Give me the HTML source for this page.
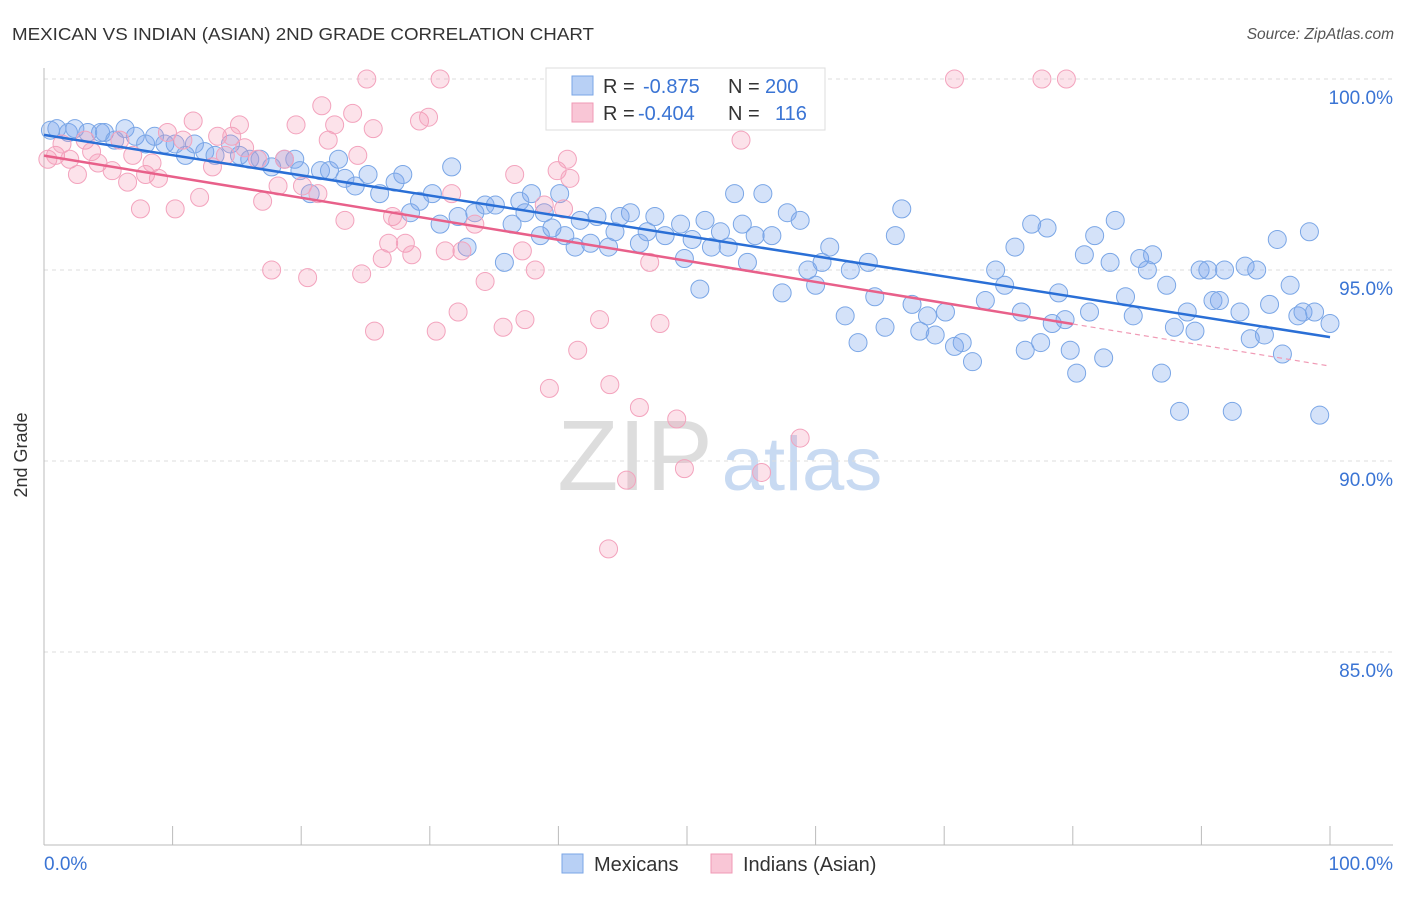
<!DOCTYPE html>
<html><head><meta charset="utf-8"><style>
body{margin:0;background:#fff;font-family:"Liberation Sans",sans-serif;}
svg text{font-family:"Liberation Sans",sans-serif;}
</style></head><body>
<svg id="chart" width="1406" height="892" xmlns="http://www.w3.org/2000/svg">
<text x="12" y="40" font-size="17.5" fill="#333" textLength="582" lengthAdjust="spacingAndGlyphs">MEXICAN VS INDIAN (ASIAN) 2ND GRADE CORRELATION CHART</text>
<text x="1394" y="39" font-size="15.5" fill="#555" text-anchor="end" font-style="italic">Source: ZipAtlas.com</text>
<text x="27" y="455" font-size="18" fill="#333" text-anchor="middle" transform="rotate(-90 27 455)">2nd Grade</text>
<g><text x="635" y="490" font-size="100" fill="#ddd" text-anchor="middle" font-family="Liberation Serif">ZIP</text><text x="802" y="490" font-size="76" fill="#c8daf2" text-anchor="middle">atlas</text></g>
<g id="grid"></g><g id="axes"></g><g id="pts"></g><g id="lines"></g>
<g>
<rect x="546" y="68" width="279" height="62" fill="#fff" stroke="#ddd"/>
<rect x="572" y="76" width="21" height="19" fill="#b8d0f5" stroke="#7aa6e6"/>
<text x="603" y="93" font-size="20" fill="#333">R =</text><text x="643" y="93" font-size="20" fill="#3a74d4">-0.875</text>
<text x="728" y="93" font-size="20" fill="#333">N =</text><text x="765" y="93" font-size="20" fill="#3a74d4">200</text>
<rect x="572" y="103" width="21" height="19" fill="#f9c6d6" stroke="#f099b5"/>
<text x="603" y="120" font-size="20" fill="#333">R =</text><text x="638" y="120" font-size="20" fill="#3a74d4">-0.404</text>
<text x="728" y="120" font-size="20" fill="#333">N =</text><text x="775" y="120" font-size="20" fill="#3a74d4">116</text>
</g>
<g>
<rect x="562" y="854" width="21" height="19" fill="#b8d0f5" stroke="#7aa6e6"/>
<text x="594" y="871" font-size="20" fill="#333">Mexicans</text>
<rect x="711" y="854" width="21" height="19" fill="#f9c6d6" stroke="#f099b5"/>
<text x="743" y="871" font-size="20" fill="#333">Indians (Asian)</text>
</g>
</svg>
<script>
const blueX=[0.5,1,1.9,2.4,3.4,4.4,4.7,5.5,6.3,7.1,7.9,8.6,9.4,10.2,11,11.7,12.5,13.3,14.5,15.2,16,16.8,17.7,18.7,19.5,19.9,20.7,21.5,22.2,22.9,23.4,24.2,25.2,26.1,27.3,27.9,28.5,29.2,30.2,30.8,31.7,32.2,32.9,33.5,34.3,35.1,35.8,36.4,37,37.4,37.9,38.6,38.9,39.5,40.1,40.5,41.3,41.7,42.5,43,43.9,44.4,44.8,45.6,46.3,46.9,47.5,48.3,49.5,49.8,50.4,51,51.4,51.9,52.6,53.2,53.7,54.3,54.7,55.3,55.9,56.6,57.4,57.8,58.8,59.4,60,60.5,61.1,62.3,62.7,63.3,64.1,64.6,65.4,66.2,66.7,67.5,68.1,68.7,69.3,70.1,70.8,71.4,72.2,73.2,74,74.7,75.5,76,76.3,76.8,77.5,78,78.4,78.9,79.4,79.8,80.3,80.9,81.3,81.7,82.4,82.9,83.3,84.1,84.7,85.2,85.8,86.2,86.9,87.3,87.9,88.3,88.9,89.5,89.9,90.5,90.9,91.4,91.8,92.4,93,93.4,93.8,94.3,94.9,95.3,95.9,96.3,96.9,97.5,97.9,98.4,98.8,99.2,100];
const blueY=[98.66,98.7,98.6,98.7,98.6,98.6,98.6,98.4,98.7,98.5,98.3,98.5,98.3,98.3,98.0,98.3,98.1,98.0,98.3,98.0,97.9,97.9,97.7,97.9,97.9,97.6,97.0,97.6,97.6,97.9,97.4,97.2,97.5,97.0,97.3,97.5,96.5,96.8,97.0,96.2,97.7,96.4,95.6,96.5,96.7,96.7,95.2,96.2,96.8,96.5,97.0,95.9,96.5,96.1,97.0,95.9,95.6,96.3,95.7,96.4,95.6,96.0,96.4,96.5,95.7,96.0,96.4,95.9,96.2,95.3,95.8,94.5,96.3,95.6,96.0,95.6,97.0,96.2,95.2,95.9,97.0,95.9,94.4,96.5,96.3,95.0,94.6,95.2,95.6,93.8,95.0,93.1,95.2,94.3,93.5,95.9,96.6,94.1,93.4,93.8,93.3,93.9,93.0,93.1,92.6,94.2,95.0,94.6,95.6,93.9,92.9,96.2,93.1,96.1,93.6,94.4,93.7,92.9,92.3,95.4,93.9,95.9,92.7,95.2,96.3,94.3,93.8,95.3,95.0,95.4,92.3,94.6,93.5,91.3,93.9,93.4,95.0,95.0,94.2,94.2,95.0,91.3,93.9,95.1,93.2,95.0,93.3,94.1,95.8,92.8,94.6,93.8,93.9,96.0,93.9,91.2,93.6];
const pinkX=[0.3,0.9,1.4,2,2.6,3.2,3.7,4.2,5.3,5.9,6.5,6.9,7.5,7.9,8.4,8.9,9.6,10.2,10.8,11.6,12.1,13.1,13.5,14.1,14.6,15.2,15.6,16.6,17.0,17.7,18.2,18.7,19.6,20.1,20.5,21.3,21.6,22.1,22.6,23.4,24,24.4,24.7,25.1,25.6,25.7,26.3,26.8,27.1,27.5,28.1,28.6,29.2,29.9,30.5,30.8,31.2,31.7,32.2,32.5,33.5,34.3,35.7,36.6,37.2,37.4,38.2,38.9,39.3,39.9,40.4,40.7,40.9,41.5,43.2,43.9,44,45.3,46,46.3,46.9,47.1,47.9,49.2,49.8,54.2,55.8,58.8,70.8,77.6,79.5];
const pinkY=[97.9,98.0,98.3,97.9,97.5,98.4,98.1,97.8,97.6,98.4,97.3,98.0,96.6,97.5,97.8,97.4,98.6,96.6,98.4,98.9,96.9,97.7,98.5,98.0,98.5,98.8,98.2,97.9,96.8,95.0,97.2,97.9,98.8,97.2,94.8,97.0,99.3,98.4,98.8,96.3,99.1,98.0,94.9,100,98.7,93.4,95.3,95.7,96.4,96.3,95.7,95.4,98.9,99.0,93.4,100,95.5,97.0,93.9,95.5,96.2,94.7,93.5,97.5,95.5,93.7,95.0,96.7,91.9,97.6,96.6,97.9,97.4,92.9,93.7,87.7,92.0,89.5,100,91.4,100,95.2,93.6,91.1,89.8,98.4,89.7,90.6,100,100,100];
const yTicks=[100,95,90,85];
const yTickLabels=["100.0%","95.0%","90.0%","85.0%"];
const xTicks=[0,10,20,30,40,50,60,70,80,90,100];
const NS="http://www.w3.org/2000/svg";
const X0=44,X1=1330,YT=79,PXPER=38.2;
function sx(v){return X0+(X1-X0)*v/100;}
function sy(v){return YT+(100-v)*PXPER;}
function mk(tag,attrs,parent){const e=document.createElementNS(NS,tag);for(const k in attrs)e.setAttribute(k,attrs[k]);document.getElementById(parent).appendChild(e);return e;}
yTicks.forEach((t,i)=>{
 const l=mk('line',{x1:44,x2:1393,y1:sy(t),y2:sy(t),stroke:'#ddd','stroke-dasharray':'4,4'},'grid');
 
 
 const tx=mk('text',{x:1393,y:sy(t)+25,'font-size':19,fill:'#3a74d4','text-anchor':'end'},'grid');
 tx.textContent=yTickLabels[i];
 
 
});
const ax=mk('line',{x1:44,x2:44,y1:68,y2:845,stroke:'#bbb'},'axes');


const bx=mk('line',{x1:44,x2:1393,y1:845,y2:845,stroke:'#bbb'},'axes');


xTicks.forEach(t=>{const l=mk('line',{x1:sx(t),x2:sx(t),y1:826,y2:845,stroke:'#bbb'},'axes');
 
 });
const xl0=mk('text',{x:44,y:870,'font-size':19,fill:'#3a74d4'},'axes');xl0.textContent='0.0%';


const xl1=mk('text',{x:1393,y:870,'font-size':19,fill:'#3a74d4','text-anchor':'end'},'axes');xl1.textContent='100.0%';


function pts(xs,ys,fill,stroke,name){xs.forEach((x,i)=>{const c=mk('circle',{cx:sx(x),cy:sy(ys[i]),r:9,fill:fill,stroke:stroke,'stroke-width':1},'pts');
 
 });}
pts(blueX,blueY,'rgba(120,165,235,0.32)','#7aa6e6','mexican-point');
pts(pinkX,pinkY,'rgba(245,150,180,0.28)','#f3a3bd','indian-point');
function fit(xs,ys){const n=xs.length;let mx=0,my=0;xs.forEach((x,i)=>{mx+=x;my+=ys[i];});mx/=n;my/=n;let sxy=0,sxx=0;xs.forEach((x,i)=>{sxy+=(x-mx)*(ys[i]-my);sxx+=(x-mx)**2;});const b=sxy/sxx;return [my-b*mx,b];}
const fb=fit(blueX,blueY),fp=fit(pinkX,pinkY);
const bl=mk('line',{x1:sx(0),y1:sy(fb[0]),x2:sx(100),y2:sy(fb[0]+fb[1]*100),stroke:'#2a6fd6','stroke-width':2.5},'lines');


const pl=mk('line',{x1:sx(0),y1:sy(fp[0]),x2:sx(80),y2:sy(fp[0]+fp[1]*80),stroke:'#e8608a','stroke-width':2.5},'lines');


const pd=mk('line',{x1:sx(80),y1:sy(fp[0]+fp[1]*80),x2:sx(100),y2:sy(fp[0]+fp[1]*100),stroke:'#f09ab5','stroke-width':1.2,'stroke-dasharray':'5,4'},'lines');


</script>
</body></html>
